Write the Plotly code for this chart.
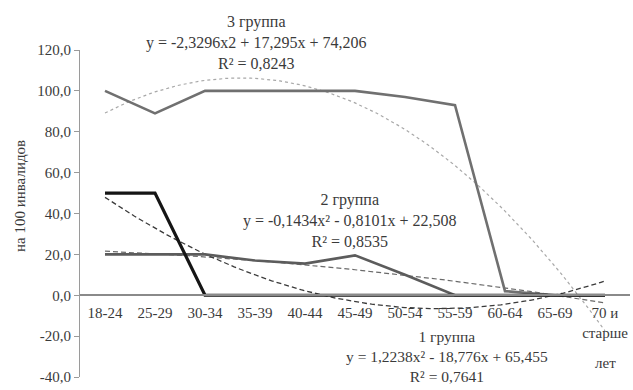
import numpy as np
import plotly.graph_objects as go

# Age groups (category axis); the last label's third line is placed separately
age_groups = ["18-24", "25-29", "30-34", "35-39", "40-44", "45-49",
              "50-54", "55-59", "60-64", "65-69", "70 и<br>старше"]
last_group_tail = "лет"

# Rate per 100 disabled persons, by disability group
group1 = [50, 50, 0, 0, 0, 0, 0, 0, 0, 0, 0]
group2 = [20, 20, 20, 17, 15.5, 19.5, 10, 0, 0, 0, 0]
group3 = [100, 89, 100, 100, 100, 100, 97, 93, 2, 0, 0]

# Polynomial trend coefficients (a, b, c) for y = a*x^2 + b*x + c, x = 1..11
trend1 = (1.2238, -18.776, 65.455)
trend2 = (-0.1434, -0.8101, 22.508)
trend3 = (-2.3296, 17.295, 74.206)

# Trend-line captions, one list per group
caption3 = ["3 группа", "y = -2,3296x2 + 17,295x + 74,206", "R² = 0,8243"]
caption2 = ["2 группа", "y = -0,1434x² - 0,8101x + 22,508", "R² = 0,8535"]
caption1 = ["1 группа", "y = 1,2238x² - 18,776x + 65,455", "R² = 0,7641"]

FONT = "Liberation Serif"
TXT = "#3a3a3a"

W, H = 633, 390
ML, MR, MT, MB = 80, 3, 50, 13
PW, PH = W - ML - MR, H - MT - MB

n = len(age_groups)
xi = np.arange(n)


def px_x(p):
    return (p - ML) / PW


def px_y(p):
    return (H - MB - p) / PH


def trend_curve(coef):
    xs = np.linspace(0, n - 1, 121)
    t = xs + 1
    a, b, c = coef
    return xs, a * t ** 2 + b * t + c


fig = go.Figure()

# Trend lines (dashed)
for coef, color, dash, width in [
    (trend3, "#a8a8a8", "3px,3px", 1.2),
    (trend2, "#6a6a6a", "5px,3px", 1.2),
    (trend1, "#3a3a3a", "5px,3px", 1.3),
]:
    xs, ys = trend_curve(coef)
    fig.add_trace(go.Scatter(x=xs, y=ys, mode="lines",
                             line=dict(color=color, width=width, dash=dash),
                             hoverinfo="skip", showlegend=False))

# Observed series
fig.add_trace(go.Scatter(x=xi, y=group3, mode="lines",
                         line=dict(color="#707070", width=2.6), showlegend=False))
fig.add_trace(go.Scatter(x=xi, y=group2, mode="lines",
                         line=dict(color="#5c5c5c", width=2.6), showlegend=False))
fig.add_trace(go.Scatter(x=xi, y=group1, mode="lines",
                         line=dict(color="#151515", width=3.2), showlegend=False))

annotations = []
for lines, cx, cy, fs in [
    (caption3, 256, 42, 16),
    (caption2, 350, 220, 16),
    (caption1, 447, 356, 15.5),
]:
    annotations.append(dict(xref="paper", yref="paper", x=px_x(cx), y=px_y(cy),
                            text="<br>".join(lines), showarrow=False,
                            xanchor="center", yanchor="middle", align="center",
                            font=dict(family=FONT, size=fs, color=TXT)))

annotations.append(dict(xref="x", yref="paper", x=n - 1, y=px_y(363),
                        text=last_group_tail, showarrow=False,
                        xanchor="center", yanchor="middle",
                        font=dict(family=FONT, size=15, color=TXT)))

annotations.append(dict(xref="paper", yref="paper", x=px_x(20), y=px_y(196),
                        text="на 100 инвалидов", textangle=-90, showarrow=False,
                        xanchor="center", yanchor="middle",
                        font=dict(family=FONT, size=15, color=TXT)))

fig.update_layout(
    width=W, height=H,
    margin=dict(l=ML, r=MR, t=MT, b=MB),
    paper_bgcolor="white", plot_bgcolor="white",
    annotations=annotations,
    xaxis=dict(
        range=[-0.5, n - 0.5],
        tickmode="array", tickvals=list(xi), ticktext=age_groups,
        anchor="free", position=0.25,
        showline=True, linecolor="#8a8a8a", linewidth=1.5,
        ticks="", showgrid=False, zeroline=False, ticklabelstandoff=4,
        tickfont=dict(family=FONT, size=15, color=TXT),
    ),
    yaxis=dict(
        range=[-40, 120], domain=[0, 1],
        tickmode="array", tickvals=[-40, -20, 0, 20, 40, 60, 80, 100, 120],
        ticktext=["-40,0", "-20,0", "0,0", "20,0", "40,0", "60,0", "80,0", "100,0", "120,0"],
        showline=True, linecolor="#9a9a9a", linewidth=1.2,
        ticks="outside", ticklen=5, tickcolor="#9a9a9a",
        showgrid=False, zeroline=False,
        tickfont=dict(family=FONT, size=15, color=TXT),
    ),
)

fig.write_html("out.html")
